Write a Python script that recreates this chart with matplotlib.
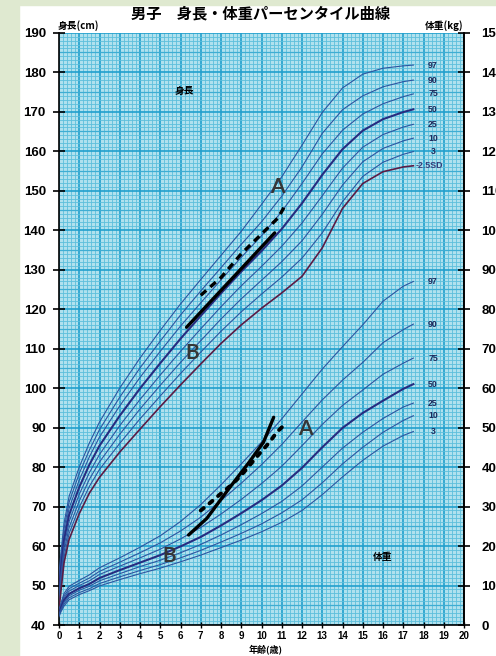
import matplotlib
matplotlib.use("Agg")
import matplotlib.pyplot as plt
from matplotlib.patches import Rectangle
import numpy as np

plt.rcParams["font.family"] = ["Liberation Sans", "Noto Sans CJK JP", "DejaVu Sans"]

# * ages (years) for the percentile curves
ages = [0, 0.1, 0.25, 0.5, 1, 1.5, 2, 3, 4, 5, 6, 7, 8, 9, 10, 11, 12, 13, 14, 15, 16, 17, 17.5]

# * height percentiles (cm)
height_curves = {
    "97": [52.8, 58.5, 65.8, 72.6, 80.0, 86.1, 91.4, 100.0, 107.6, 114.6, 121.3, 127.5, 133.6, 139.7, 146.5, 153.5, 161.5, 169.8, 176.0, 179.5, 181.0, 181.6, 181.8],
    "90": [51.6, 57.2, 64.4, 71.1, 78.4, 84.3, 89.5, 97.7, 105.1, 111.9, 118.5, 124.6, 130.5, 136.4, 142.1, 148.6, 156.0, 164.5, 170.5, 174.0, 176.3, 177.6, 178.0],
    "75": [50.3, 55.8, 63.0, 69.6, 76.7, 82.6, 87.6, 95.5, 102.7, 109.3, 115.7, 121.6, 127.4, 133.1, 138.6, 144.7, 151.8, 159.3, 165.3, 169.4, 172.0, 173.8, 174.5],
    "50": [49.0, 54.3, 61.5, 67.9, 74.9, 80.6, 85.4, 93.0, 99.9, 106.3, 112.5, 118.3, 124.0, 129.5, 134.7, 140.3, 146.8, 154.0, 160.5, 165.2, 168.1, 169.9, 170.6],
    "25": [47.7, 52.8, 60.0, 66.2, 73.1, 78.6, 83.2, 90.5, 97.1, 103.3, 109.3, 115.0, 120.6, 125.9, 130.8, 135.9, 141.8, 148.7, 155.7, 161.0, 164.2, 166.1, 166.8],
    "10": [46.4, 51.4, 58.6, 64.7, 71.4, 76.9, 81.3, 88.3, 94.7, 100.7, 106.5, 112.0, 117.5, 122.6, 127.3, 132.0, 137.3, 144.0, 151.4, 157.3, 160.7, 162.6, 163.3],
    "3": [45.2, 50.1, 57.2, 63.2, 69.8, 75.1, 79.4, 86.0, 92.2, 98.0, 103.7, 109.1, 114.4, 119.3, 123.8, 128.1, 132.9, 139.3, 147.2, 153.6, 157.2, 159.2, 159.9],
}
height_sd_low = [44.0, 48.8, 55.8, 61.7, 68.2, 73.4, 77.4, 83.8, 89.6, 95.3, 100.8, 106.1, 111.3, 116.0, 120.2, 124.1, 128.3, 135.5, 145.5, 151.8, 154.8, 156.0, 156.3]

# * weight percentiles (kg)
weight_curves = {
    "97": [3.8, 5.6, 8.0, 9.8, 11.3, 12.7, 14.5, 17.0, 19.7, 22.6, 26.2, 30.5, 35.5, 40.8, 46.3, 52.2, 58.5, 64.8, 70.5, 76.0, 82.0, 85.8, 87.0],
    "90": [3.55, 5.2, 7.4, 9.2, 10.6, 11.9, 13.6, 15.9, 18.3, 20.8, 23.8, 27.3, 31.5, 35.9, 40.6, 45.7, 51.4, 57.0, 62.0, 66.5, 71.5, 74.8, 76.2],
    "75": [3.3, 4.8, 6.9, 8.6, 10.0, 11.2, 12.8, 14.9, 17.0, 19.2, 21.8, 24.7, 28.1, 31.8, 35.8, 40.2, 45.4, 50.8, 55.6, 59.5, 63.5, 66.3, 67.6],
    "50": [3.0, 4.4, 6.3, 7.9, 9.3, 10.4, 11.9, 13.9, 15.8, 17.7, 19.9, 22.3, 25.2, 28.3, 31.6, 35.3, 39.8, 45.0, 49.9, 53.7, 56.8, 59.8, 61.0],
    "25": [2.75, 4.0, 5.8, 7.4, 8.8, 9.8, 11.2, 13.0, 14.8, 16.4, 18.3, 20.4, 22.8, 25.4, 28.2, 31.3, 35.2, 40.0, 44.8, 48.8, 52.3, 55.2, 56.2],
    "10": [2.45, 3.7, 5.3, 6.9, 8.2, 9.2, 10.5, 12.2, 13.8, 15.3, 17.0, 18.9, 21.0, 23.2, 25.6, 28.4, 31.7, 36.0, 40.8, 45.0, 48.8, 51.8, 53.0],
    "3": [2.1, 3.4, 4.8, 6.4, 7.7, 8.7, 9.9, 11.5, 13.0, 14.4, 16.0, 17.7, 19.6, 21.5, 23.6, 26.0, 29.0, 33.0, 37.5, 41.7, 45.3, 48.0, 49.0],
}

# * hand drawn child records
height_a_age = [7.0, 8.0, 9.0, 10.0, 10.8, 11.2]
height_a_val = [123.5, 128.0, 134.0, 139.0, 143.0, 146.5]
height_b_age = [6.3, 10.65]
height_b_val = [115.4, 139.3]
weight_a_age = [7.0, 7.5, 8.0, 8.5, 9.0, 9.9, 10.4, 10.75, 11.25]
weight_a_val = [29.0, 31.1, 33.3, 35.4, 37.9, 43.4, 46.3, 48.8, 51.3]
weight_b_age = [6.4, 7.3, 8.4, 9.4, 10.1, 10.6]
weight_b_val = [22.8, 27.0, 34.6, 41.3, 46.3, 52.6]

age_ticks = list(range(0, 21))
height_ticks = list(range(40, 191, 10))
weight_ticks = list(range(0, 151, 10))

curve_col = "#2c55a0"
mid_col = "#262c80"
sd_col = "#5a1c45"
label_col = "#1d2a5c"

fig = plt.figure(figsize=(4.96, 6.56), dpi=100)
fig.patch.set_facecolor("white")
fig.patches.append(Rectangle((0, 0), 19 / 496, 1, transform=fig.transFigure, color="#dfe9d0", zorder=0))
fig.patches.append(Rectangle((0, 1 - 5 / 656), 1, 5 / 656, transform=fig.transFigure, color="#dfe9d0", zorder=0))

ax = fig.add_axes([59 / 496, 31 / 656, 405 / 496, 592.3 / 656])
ax.set_facecolor("#b0e1ee")
ax.set_xlim(0, 20)
ax.set_ylim(40, 190)

# graph paper
ax.set_xticks(age_ticks)
ax.set_xticks(np.arange(0, 20.01, 0.2), minor=True)
ax.set_yticks(height_ticks)
ax.set_yticks(np.arange(40, 190.1, 1), minor=True)
ax.grid(which="minor", color="#5dbfdc", lw=0.6)
ax.grid(which="major", color="#219fcd", lw=1.2)
for v in np.arange(45, 190, 10):
    ax.axhline(v, color="#3eadd3", lw=0.9, zorder=0.9)
ax.set_axisbelow(True)

ax.spines["top"].set_visible(False)
for sp in ["left", "bottom", "right"]:
    ax.spines[sp].set_color("black")
    ax.spines[sp].set_linewidth(1.2)

ax.tick_params(axis="y", which="major", direction="inout", length=9, width=1.2, pad=5,
               labelsize=9.5)
ax.tick_params(axis="x", which="major", direction="inout", length=5, width=1.0, pad=2,
               labelsize=7)
ax.tick_params(which="minor", length=0)
for lab in ax.get_yticklabels() + ax.get_xticklabels():
    lab.set_fontweight("bold")

ax2 = ax.twinx()
ax2.set_ylim(0, 150)
ax2.set_yticks(weight_ticks)
ax2.tick_params(axis="y", direction="inout", length=9, width=1.2, pad=8, labelsize=9.5)
for lab in ax2.get_yticklabels():
    lab.set_fontweight("bold")
for sp in ["top", "left", "bottom"]:
    ax2.spines[sp].set_visible(False)
ax2.spines["right"].set_linewidth(1.2)

# height curves
for name, vals in height_curves.items():
    if name == "50":
        ax.plot(ages, vals, color=mid_col, lw=1.5, zorder=3)
    else:
        ax.plot(ages, vals, color=curve_col, lw=0.8, zorder=3)
    ax.text(18.47, vals[-1], name, fontsize=6.3, fontweight="bold", color=label_col,
            ha="center", va="center", zorder=5)
ax.plot(ages, height_sd_low, color=sd_col, lw=1.2, zorder=3)
ax.text(17.6, height_sd_low[-1], "-2.5SD", fontsize=6.3, fontweight="bold", color="#3a3f7a",
        ha="left", va="center", zorder=5)

# weight curves
for name, vals in weight_curves.items():
    if name == "50":
        ax2.plot(ages, vals, color=mid_col, lw=1.5, zorder=3)
    else:
        ax2.plot(ages, vals, color=curve_col, lw=0.8, zorder=3)
    ax2.text(18.47, vals[-1], name, fontsize=6.3, fontweight="bold", color=label_col,
             ha="center", va="center", zorder=5)

# records
ax.plot(height_a_age, height_a_val, color="black", lw=2.4, ls=(0, (2.2, 1.6)), zorder=6)
ax.plot(height_b_age, height_b_val, color="black", lw=2.4, solid_capstyle="round", zorder=6)
ax2.plot(weight_a_age, weight_a_val, color="black", lw=2.8, ls=(0, (1.0, 1.9)),
         dash_capstyle="round", zorder=6)
ax2.plot(weight_b_age, weight_b_val, color="black", lw=2.4, solid_capstyle="round", zorder=6)

letter = dict(fontsize=15, fontweight="bold", color="#363636", family=["Lato", "DejaVu Sans"],
              ha="center", va="center", zorder=7)
ax.text(10.8, 151.0, "A", **letter)
ax.text(6.6, 108.8, "B", **letter)
ax2.text(12.15, 49.7, "A", **letter)
ax2.text(5.43, 17.4, "B", **letter)

cjk = ["Noto Sans CJK JP", "DejaVu Sans"]
ax.text(6.2, 175.3, "身長", fontsize=7, fontweight="bold", family=cjk, ha="center", va="center")
ax2.text(16.0, 17.2, "体重", fontsize=7, fontweight="bold", family=cjk, ha="center", va="center")

fig.text(0.525, 0.980, "男子　身長・体重パーセンタイル曲線", fontsize=11, fontweight="bold",
         family=cjk, ha="center", va="center")
fig.text(58 / 496, 0.961, "身長(cm)", fontsize=7, fontweight="bold", family=cjk, ha="left", va="center")
fig.text(463 / 496, 0.961, "体重(kg)", fontsize=7, fontweight="bold", family=cjk, ha="right", va="center")
fig.text(266 / 496, 7 / 656, "年齢(歳)", fontsize=6.5, fontweight="bold", family=cjk, ha="center", va="center")

fig.savefig("out.png", dpi=100)
